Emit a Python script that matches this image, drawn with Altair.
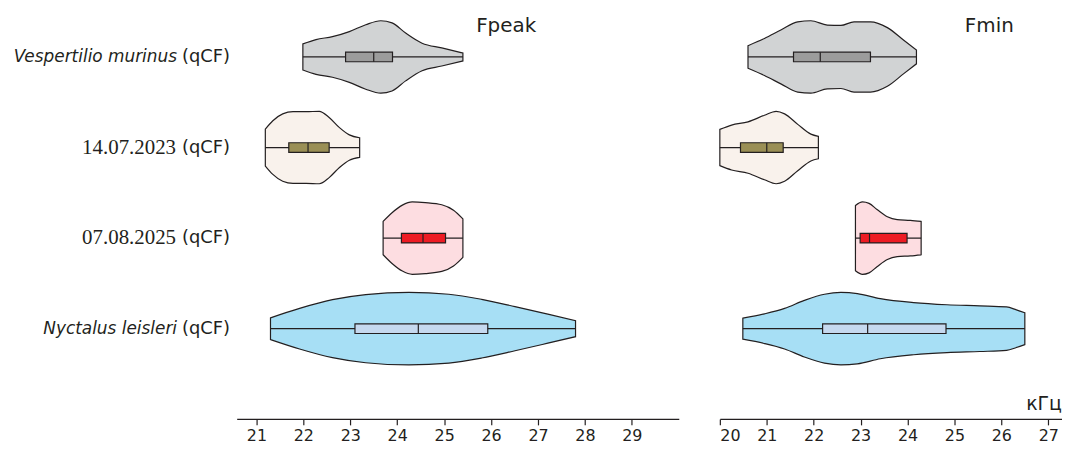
import altair as alt
import pandas as pd

# ---------------- data ----------------
GROUPS = ["Vespertilio murinus", "14.07.2023", "07.08.2025", "Nyctalus leisleri"]
ROWS = [0, 1, 2, 3]
LABEL_STYLE = ["italic", "serif", "serif", "italic"]
SUFFIX = "(qCF)"

PANELS = ["Fpeak", "Fmin"]
UNIT = "кГц"
FPEAK_TICKS = [21, 22, 23, 24, 25, 26, 27, 28, 29]
FMIN_TICKS = [20, 21, 22, 23, 24, 25, 26, 27]

# violin outlines: frequency positions (kHz) and relative half-width (1 = widest)
FPEAK_X = {
    "Vespertilio murinus": [21.99, 22.27, 22.62, 22.98, 23.33, 23.65, 23.89, 24.18, 24.53, 24.95, 25.40],
    "14.07.2023": [21.19, 21.35, 21.56, 21.78, 22.06, 22.34, 22.55, 22.77, 22.98, 23.20],
    "07.08.2025": [23.70, 23.89, 24.11, 24.32, 24.60, 24.95, 25.20, 25.40],
    "Nyctalus leisleri": [21.30, 21.92, 22.62, 23.33, 24.25, 25.10, 25.80, 26.51, 27.21, 27.80],
}
FPEAK_W = {
    "Vespertilio murinus": [0.36, 0.48, 0.56, 0.70, 0.89, 1.00, 0.94, 0.66, 0.38, 0.25, 0.11],
    "14.07.2023": [0.51, 0.74, 0.93, 0.99, 0.99, 1.00, 0.83, 0.55, 0.35, 0.27],
    "07.08.2025": [0.46, 0.70, 0.91, 1.00, 0.98, 0.92, 0.77, 0.53],
    "Nyctalus leisleri": [0.30, 0.56, 0.80, 0.94, 1.00, 0.95, 0.81, 0.61, 0.40, 0.22],
}
FMIN_X = {
    "Vespertilio murinus": [20.60, 20.95, 21.31, 21.66, 21.94, 22.29, 22.58, 22.86, 23.21, 23.57, 23.92, 24.19],
    "14.07.2023": [20.00, 20.25, 20.60, 20.95, 21.20, 21.38, 21.66, 21.94, 22.10],
    "07.08.2025": [22.89, 23.04, 23.18, 23.35, 23.57, 23.78, 24.06, 24.29],
    "Nyctalus leisleri": [20.49, 20.95, 21.38, 21.80, 22.23, 22.58, 22.93, 23.42, 24.13, 24.84, 25.54, 26.11, 26.32, 26.50],
}
FMIN_W = {
    "Vespertilio murinus": [0.31, 0.51, 0.75, 0.97, 1.00, 0.88, 0.87, 0.97, 0.97, 0.81, 0.46, 0.19],
    "14.07.2023": [0.50, 0.62, 0.71, 0.89, 1.00, 0.93, 0.64, 0.37, 0.31],
    "07.08.2025": [0.90, 1.00, 0.96, 0.79, 0.59, 0.51, 0.49, 0.46],
    "Nyctalus leisleri": [0.29, 0.41, 0.56, 0.78, 0.95, 1.00, 0.97, 0.83, 0.72, 0.66, 0.63, 0.60, 0.52, 0.44],
}
# box plots: min, q1, median, q3, max
FPEAK_BOX = {
    "Vespertilio murinus": [21.99, 22.90, 23.50, 23.90, 25.40],
    "14.07.2023": [21.19, 21.69, 22.10, 22.55, 23.20],
    "07.08.2025": [23.70, 24.09, 24.55, 25.03, 25.40],
    "Nyctalus leisleri": [21.30, 23.10, 24.45, 25.93, 27.80],
}
FMIN_BOX = {
    "Vespertilio murinus": [20.60, 21.57, 22.14, 23.21, 24.19],
    "14.07.2023": [20.00, 20.44, 21.00, 21.35, 22.10],
    "07.08.2025": [22.89, 22.99, 23.19, 23.99, 24.29],
    "Nyctalus leisleri": [20.49, 22.19, 23.15, 24.82, 26.50],
}

# ---------------- styles ----------------
VIOLIN_COLORS = ["#d1d3d4", "#f9f2ec", "#fddde1", "#a7dff5"]
BOX_COLORS = ["#9c9c9c", "#9a8f55", "#ed1c24", "#c6d9ef"]
INK = "#231f20"
SANS = "DejaVu Sans"
SERIF = "Liberation Serif"
Y_SCALE = alt.Scale(domain=[-0.472, 3.996], reverse=True, nice=False, zero=False)
HALF = 0.40     # widest violin half-width in row units
BOXH = 0.053    # box half-height in row units
H = 407


def violin_table(xs, ws):
    recs = []
    for g, r in zip(GROUPS, ROWS):
        for x, w in zip(xs[g], ws[g]):
            recs.append({"group": g, "row": r, "x": x, "w": w})
    return pd.DataFrame(recs)


def box_table(box):
    recs = []
    for g, r in zip(GROUPS, ROWS):
        mn, q1, md, q3, mx = box[g]
        recs.append({"group": g, "row": r, "mn": mn, "q1": q1, "md": md, "q3": q3, "mx": mx})
    return pd.DataFrame(recs)


def panel(title, xs, ws, box, domain, ticks, width, extra_layers):
    xscale = alt.Scale(domain=domain, nice=False, zero=False)
    xaxis = alt.Axis(values=ticks, title=None, grid=False, format="d",
                     domainColor=INK, domainWidth=1.2, tickColor=INK, tickWidth=1.2, tickSize=6,
                     labelFont=SANS, labelFontSize=16, labelColor=INK, labelPadding=3)
    vdf = violin_table(xs, ws)
    bdf = box_table(box)

    area = alt.Chart(vdf).transform_calculate(
        lo=f"datum.row - {HALF} * datum.w", hi=f"datum.row + {HALF} * datum.w"
    ).mark_area(orient="vertical", interpolate="monotone", stroke=INK, strokeWidth=1.2, opacity=1).encode(
        x=alt.X("x:Q", scale=xscale, axis=xaxis),
        y=alt.Y("lo:Q", scale=Y_SCALE, axis=None),
        y2="hi:Q",
        color=alt.Color("group:N", scale=alt.Scale(domain=GROUPS, range=VIOLIN_COLORS), legend=None),
    )
    whisk = alt.Chart(bdf).mark_rule(color=INK, strokeWidth=1.2).encode(
        x="mn:Q", x2="mx:Q", y=alt.Y("row:Q", scale=Y_SCALE, axis=None)
    )
    boxes = alt.Chart(bdf).transform_calculate(
        lo=f"datum.row - {BOXH}", hi=f"datum.row + {BOXH}"
    ).mark_rect(stroke=INK, strokeWidth=1.2).encode(
        x="q1:Q", x2="q3:Q",
        y=alt.Y("lo:Q", scale=Y_SCALE, axis=None), y2="hi:Q",
        fill=alt.Fill("group:N", scale=alt.Scale(domain=GROUPS, range=BOX_COLORS), legend=None),
    )
    med = alt.Chart(bdf).transform_calculate(
        lo=f"datum.row - {BOXH}", hi=f"datum.row + {BOXH}"
    ).mark_rule(color=INK, strokeWidth=1.2).encode(
        x="md:Q", y=alt.Y("lo:Q", scale=Y_SCALE, axis=None), y2="hi:Q"
    )
    ttl = alt.Chart(pd.DataFrame({"t": [title]})).mark_text(
        font=SANS, fontSize=20, align="center", baseline="alphabetic", color=INK
    ).encode(x=alt.value(271), y=alt.value(18), text="t:N")

    layers = [area, whisk, boxes, med, ttl] + extra_layers
    return alt.layer(*layers).resolve_scale(color="independent", fill="independent").properties(
        width=width, height=H
    )


lab = pd.DataFrame({"name": GROUPS, "row": ROWS, "style": LABEL_STYLE, "suffix": [SUFFIX] * 4})
suffix_txt = alt.Chart(lab).mark_text(
    font=SANS, fontSize=18, align="right", baseline="middle", color=INK
).encode(x=alt.value(-6.7), y=alt.Y("row:Q", scale=Y_SCALE, axis=None), text="suffix:N")
italic_txt = alt.Chart(lab).transform_filter("datum.style == 'italic'").mark_text(
    font=SANS, fontSize=17, fontStyle="italic", align="right", baseline="middle", color=INK
).encode(x=alt.value(-60), y=alt.Y("row:Q", scale=Y_SCALE, axis=None), text="name:N")
serif_txt = alt.Chart(lab).transform_filter("datum.style == 'serif'").mark_text(
    font=SERIF, fontSize=21, align="right", baseline="middle", color=INK
).encode(x=alt.value(-61), y=alt.Y("row:Q", scale=Y_SCALE, axis=None), text="name:N")

unit_txt = alt.Chart(pd.DataFrame({"u": [UNIT]})).mark_text(
    font=SANS, fontSize=19, align="right", baseline="alphabetic", color=INK
).encode(x=alt.value(344), y=alt.value(398), text="u:N")

left = panel(PANELS[0], FPEAK_X, FPEAK_W, FPEAK_BOX, [20.58, 30.0], FPEAK_TICKS, 444.6,
             [suffix_txt, italic_txt, serif_txt])
right = panel(PANELS[1], FMIN_X, FMIN_W, FMIN_BOX, [20.0, 27.29], FMIN_TICKS, 344, [unit_txt])

chart = alt.hconcat(left, right, spacing=37.9).properties(
    padding={"left": 5, "top": 5, "right": 0, "bottom": 0},
    background="white",
).configure_view(strokeWidth=0, stroke="transparent")

chart.save("out.html", embed_options={"renderer": "svg", "actions": False})
